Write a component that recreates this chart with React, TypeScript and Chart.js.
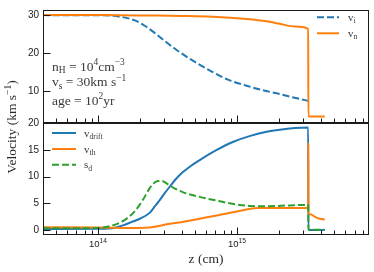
import React, { useEffect, useRef } from 'react';
import { Chart, registerables } from 'chart.js';
Chart.register(...registerables);

// ---- data (z in cm, velocities in km/s) ----
const zIon = [4.0e13, 1.03e14, 1.43e14, 1.84e14, 2.17e14, 2.56e14, 3.02e14, 3.56e14, 4.57e14, 6.68e14, 8.86e14, 1.17e15, 1.53e15, 2.03e15, 2.6e15, 3.25e15];
const vIon = [30.0, 29.95, 29.6, 28.6, 27.2, 25.3, 23.2, 21.2, 18.5, 15.0, 12.8, 11.4, 10.2, 9.2, 8.2, 7.4];

const zNeu = [4.0e13, 1.03e14, 2.35e14, 4.06e14, 6.68e14, 1.17e15, 1.63e15, 2.03e15, 2.6e15, 3.25e15, 3.26e15, 4.28e15];
const vNeu = [30.0, 30.0, 29.9, 29.8, 29.6, 29.0, 28.4, 27.7, 27.0, 26.4, 3.3, 3.3];

const zDrift = [4.0e13, 1.03e14, 1.32e14, 1.51e14, 1.75e14, 2.0e14, 2.35e14, 2.56e14, 2.78e14, 3.02e14, 3.28e14, 3.62e14, 4.06e14, 4.65e14, 5.39e14, 7.14e14, 9.31e14, 1.23e15, 1.63e15, 2.03e15, 2.6e15, 3.25e15, 3.26e15, 4.28e15];
const vDrift = [0.15, 0.2, 0.4, 0.85, 1.5, 2.1, 3.2, 4.4, 5.6, 6.9, 8.1, 9.5, 10.8, 12.0, 13.1, 15.0, 16.5, 17.6, 18.4, 18.8, 19.1, 19.2, 0.0, 0.0];

const zTh = [4.0e13, 1.03e14, 1.69e14, 2.17e14, 2.56e14, 3.12e14, 4.06e14, 5.39e14, 7.14e14, 9.31e14, 1.17e15, 1.46e15, 3.25e15, 3.255e15, 3.26e15, 3.39e15, 3.69e15, 3.94e15, 4.28e15];
const vTh = [0.5, 0.45, 0.35, 0.4, 0.6, 1.05, 1.5, 2.1, 2.7, 3.3, 3.85, 4.1, 4.1, 16.2, 3.2, 2.9, 2.35, 2.1, 1.95];

const zSd = [4.0e13, 9.47e13, 1.12e14, 1.36e14, 1.56e14, 1.78e14, 1.93e14, 2.1e14, 2.35e14, 2.56e14, 2.69e14, 2.87e14, 3.17e14, 3.44e14, 4.06e14, 5.39e14, 7.14e14, 9.31e14, 1.23e15, 1.63e15, 2.39e15, 3.25e15, 3.26e15, 4.28e15];
const vSd = [0.3, 0.35, 0.5, 1.1, 1.9, 3.1, 4.2, 5.6, 7.8, 8.9, 9.2, 9.2, 8.6, 8.0, 7.1, 6.2, 5.5, 4.9, 4.5, 4.45, 4.6, 4.7, 0.05, 0.05];

const topTicks = [10, 20, 30];
const botTicks = [0, 5, 10, 15, 20];
const xMajor = [1e14, 1e15];
const xExpLabels = ['14', '15'];

const xMin = 4.02e13, xMax = 8.9e15;
const topMin = 1.7, topMax = 31.35;
const botMin = -0.95, botMax = 20.15;

const BLUE = '#1f77b4', ORANGE = '#ff7f0e', GREEN = '#2ca02c';
const SERIF = '"Liberation Serif", "DejaVu Serif", serif';
const SANS = '"Liberation Sans", "DejaVu Sans", sans-serif';
const DASH = [7, 3];

type Part = [string, number]; // 0 normal, 1 subscript, 2 superscript

function drawRich(ctx: CanvasRenderingContext2D, parts: Part[], x: number, y: number, size: number, family: string, color: string, align: 'left' | 'center' = 'left') {
  ctx.save();
  ctx.fillStyle = color;
  ctx.textBaseline = 'alphabetic';
  ctx.textAlign = 'left';
  const fontFor = (k: number) => `${k ? size * 0.7 : size}px ${family}`;
  let total = 0;
  for (const [t, k] of parts) { ctx.font = fontFor(k); total += ctx.measureText(t).width; }
  let cx = align === 'center' ? x - total / 2 : x;
  for (const [t, k] of parts) {
    ctx.font = fontFor(k);
    const dy = k === 1 ? size * 0.22 : k === 2 ? -size * 0.4 : 0;
    ctx.fillText(t, cx, y + dy);
    cx += ctx.measureText(t).width;
  }
  ctx.restore();
}

const pts = (zs: number[], vs: number[]) => zs.map((z, i) => ({ x: z, y: vs[i] }));

const topLegend: { label: Part[]; color: string; dash: number[] }[] = [
  { label: [['v', 0], ['i', 1]], color: BLUE, dash: DASH },
  { label: [['v', 0], ['n', 1]], color: ORANGE, dash: [] },
];
const botLegend: { label: Part[]; color: string; dash: number[] }[] = [
  { label: [['v', 0], ['drift', 1]], color: BLUE, dash: [] },
  { label: [['v', 0], ['th', 1]], color: ORANGE, dash: [] },
  { label: [['s', 0], ['d', 1]], color: GREEN, dash: DASH },
];

const decorPlugin = {
  id: 'decor',
  afterDatasetsDraw(chart: any) {
    const ctx: CanvasRenderingContext2D = chart.ctx;
    const sx = chart.scales.x, st = chart.scales.yTop, sb = chart.scales.yBot;
    const L = Math.round(sx.left) + 0.5, R = Math.round(sx.right) - 0.5;
    ctx.save();
    ctx.strokeStyle = '#1a1a1a';
    ctx.lineWidth = 1;
    ctx.setLineDash([]);
    const line = (x1: number, y1: number, x2: number, y2: number) => {
      ctx.beginPath(); ctx.moveTo(x1, y1); ctx.lineTo(x2, y2); ctx.stroke();
    };
    const panels: [any, number[]][] = [[st, topTicks], [sb, botTicks]];
    for (const [s, ticks] of panels) {
      const T = Math.round(s.top) + 0.5, B = Math.round(s.bottom) - 0.5;
      ctx.strokeRect(L, T, R - L, B - T);
      for (const v of ticks) {
        const py = Math.round(s.getPixelForValue(v)) + 0.5;
        line(L, py, L + 7, py);
      }
      for (let e = 13; e <= 15; e++) {
        for (let k = 1; k <= 9; k++) {
          const z = k * Math.pow(10, e);
          if (z < xMin || z > xMax) continue;
          const px = Math.round(sx.getPixelForValue(z)) + 0.5;
          line(px, B, px, B - (k === 1 ? 7 : 4));
        }
      }
    }
    ctx.restore();
  },
  afterDraw(chart: any) {
    const ctx: CanvasRenderingContext2D = chart.ctx;
    const sx = chart.scales.x;
    // x tick labels
    xMajor.forEach((z, i) => {
      drawRich(ctx, [['10', 0], [xExpLabels[i], 2]], sx.getPixelForValue(z), 247, 9.5, SANS, '#222', 'center');
    });
    // axis titles
    drawRich(ctx, [['z (cm)', 0]], (sx.left + sx.right) / 2, 263, 13.5, SERIF, '#2a2a2a', 'center');
    ctx.save();
    ctx.translate(16, 127);
    ctx.rotate(-Math.PI / 2);
    drawRich(ctx, [['Velocity (km s', 0], ['−1', 2], [')', 0]], 0, 0, 13.5, SERIF, '#2a2a2a', 'center');
    ctx.restore();
    // annotations
    const ann = '#3a3a3a';
    drawRich(ctx, [['n', 0], ['H', 1], [' = 10', 0], ['4', 2], ['cm', 0], ['−3', 2]], 52, 70.5, 13.5, SERIF, ann);
    drawRich(ctx, [['v', 0], ['s', 1], [' = 30km s', 0], ['−1', 2]], 52, 86, 13.5, SERIF, ann);
    drawRich(ctx, [['age = 10', 0], ['2', 2], ['yr', 0]], 52, 104.5, 13.5, SERIF, ann);
    // legends
    const drawLegend = (items: typeof topLegend, x1: number, x2: number, lx: number, ys: number[]) => {
      items.forEach((it, i) => {
        ctx.save();
        ctx.strokeStyle = it.color;
        ctx.lineWidth = 2;
        ctx.setLineDash(it.dash);
        ctx.beginPath(); ctx.moveTo(x1, ys[i]); ctx.lineTo(x2, ys[i]); ctx.stroke();
        ctx.restore();
        drawRich(ctx, it.label, lx, ys[i] + 3.5, 11, SERIF, '#3a3a3a');
      });
    };
    drawLegend(topLegend, 317, 339, 348, [17.3, 33.3]);
    drawLegend(botLegend, 52, 76, 84, [133, 149, 164.7]);
  },
};

export default function App() {
  const ref = useRef<HTMLCanvasElement>(null);
  useEffect(() => {
    if (!ref.current) return;
    const common = { pointRadius: 0, fill: false, borderWidth: 2, cubicInterpolationMode: 'monotone' as const, borderCapStyle: 'butt' as const, borderJoinStyle: 'round' as const };
    const chart = new Chart(ref.current, {
      type: 'line',
      data: {
        datasets: [
          { ...common, label: 'v_i', data: pts(zIon, vIon), borderColor: BLUE, borderDash: DASH, yAxisID: 'yTop', order: 2 },
          { ...common, label: 'v_n', data: pts(zNeu, vNeu), borderColor: ORANGE, yAxisID: 'yTop', order: 1 },
          { ...common, label: 'v_drift', data: pts(zDrift, vDrift), borderColor: BLUE, yAxisID: 'yBot', order: 5 },
          { ...common, label: 'v_th', data: pts(zTh, vTh), borderColor: ORANGE, yAxisID: 'yBot', order: 4 },
          { ...common, label: 's_d', data: pts(zSd, vSd), borderColor: GREEN, borderDash: DASH, yAxisID: 'yBot', order: 3 },
        ],
      },
      options: {
        responsive: false,
        animation: false,
        devicePixelRatio: 1,
        layout: { padding: { top: 5, right: 5, left: 0, bottom: 0 } },
        plugins: { legend: { display: false }, tooltip: { enabled: false } },
        events: [],
        scales: {
          x: {
            type: 'logarithmic',
            position: 'bottom',
            min: xMin,
            max: xMax,
            grid: { display: false, drawTicks: false },
            border: { display: false },
            ticks: { display: false },
            afterFit: (s: any) => { s.height = 37; },
          },
          yBot: {
            type: 'linear',
            position: 'left',
            stack: 'v',
            stackWeight: 1,
            weight: 0,
            min: botMin,
            max: botMax,
            grid: { display: false, drawTicks: false },
            border: { display: false },
            ticks: { font: { family: SANS, size: 10 }, color: '#222', padding: 4 },
            afterBuildTicks: (s: any) => { s.ticks = botTicks.map((v) => ({ value: v })); },
            afterFit: (s: any) => { s.width = 43; },
          },
          yTop: {
            type: 'linear',
            position: 'left',
            stack: 'v',
            stackWeight: 1,
            weight: 1,
            min: topMin,
            max: topMax,
            grid: { display: false, drawTicks: false },
            border: { display: false },
            ticks: { font: { family: SANS, size: 10 }, color: '#222', padding: 4 },
            afterBuildTicks: (s: any) => { s.ticks = topTicks.map((v) => ({ value: v })); },
            afterFit: (s: any) => { s.width = 43; },
          },
        },
      } as any,
      plugins: [decorPlugin],
    });
    return () => chart.destroy();
  }, []);
  return (
    <div style={{ position: 'fixed', left: 0, top: 0, width: 374, height: 272, background: '#fff' }}>
      <canvas ref={ref} width={374} height={272} style={{ display: 'block', width: 374, height: 272 }} />
    </div>
  );
}
